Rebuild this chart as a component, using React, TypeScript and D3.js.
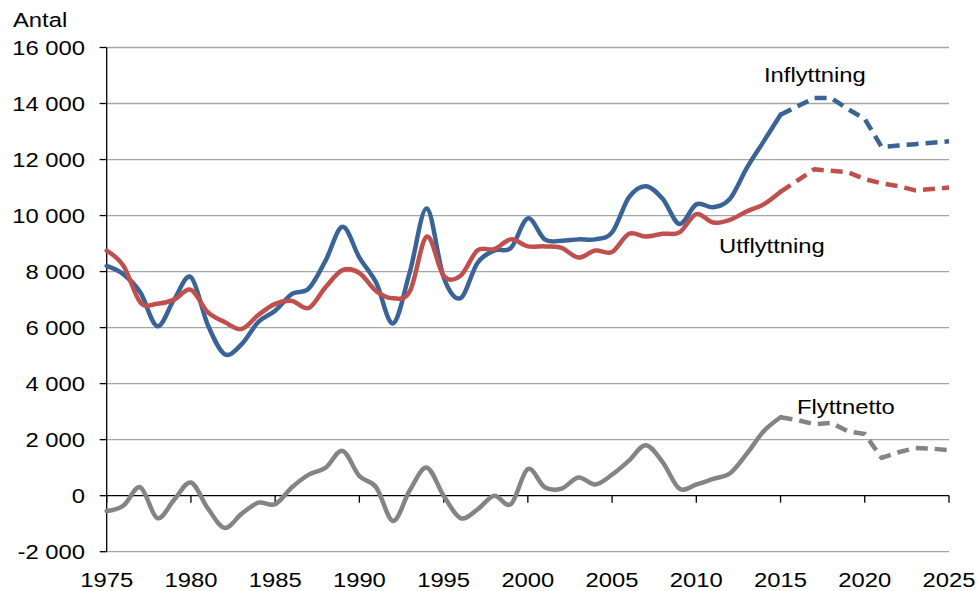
import React from "react";
import * as d3 from "d3";

const years: number[] = d3.range(1975, 2026);

const inflyttning: number[] = [
  8200, 7900, 7250, 6050, 7000, 7800, 6100, 5050, 5400, 6200,
  6600, 7200, 7400, 8400, 9600, 8500, 7600, 6150, 8000, 10250,
  7800, 7050, 8300, 8750, 8850, 9900, 9150, 9100, 9150, 9150,
  9400, 10650, 11050, 10600, 9700, 10400, 10300, 10600, 11700, 12650,
  13600, 13900, 14200, 14200, 13800, 13450, 12450, 12500, 12550, 12600,
  12650,
];

const utflyttning: number[] = [
  8750, 8200, 6900, 6850, 7000, 7350, 6550, 6200, 5950, 6450,
  6850, 6950, 6700, 7450, 8050, 7950, 7300, 7050, 7300, 9250,
  7850, 7850, 8750, 8800, 9150, 8900, 8900, 8850, 8500, 8750,
  8700, 9350, 9250, 9350, 9400, 10050, 9750, 9850, 10150, 10400,
  10850, 11250, 11650, 11600, 11550, 11300, 11150, 11050, 10900, 10950,
  11000,
];

const flyttnetto: number[] = [
  -550, -350, 300, -800, -150, 470, -450, -1150, -650, -250,
  -300, 300, 750, 1000, 1600, 700, 300, -900, 200, 1000,
  0, -800, -500, 0, -300, 950, 300, 250, 650, 400,
  750, 1250, 1800, 1200, 250, 400, 600, 800, 1500, 2300,
  2800, 2700, 2550, 2600, 2300, 2200, 1350, 1550, 1700, 1680,
  1620,
];

const yTicks: number[] = [-2000, 0, 2000, 4000, 6000, 8000, 10000, 12000, 14000, 16000];
const xTicks: number[] = [1975, 1980, 1985, 1990, 1995, 2000, 2005, 2010, 2015, 2020, 2025];
const forecastStart = 2015;

const W = 979;
const H = 591;
const FONT = "'Liberation Sans', Arial, sans-serif";
const FS = 20;
const SX = 1.19;

const fmt = (v: number) => {
  const s = Math.abs(v).toString().replace(/\B(?=(\d{3})+(?!\d))/g, " ");
  return (v < 0 ? "-" : "") + s;
};

function Txt({ x, y, anchor = "start", children }: { x: number; y: number; anchor?: string; children: React.ReactNode }) {
  return (
    <text
      transform={`translate(${x},${y}) scale(${SX},1)`}
      textAnchor={anchor as any}
      fontFamily={FONT}
      fontSize={FS}
      fill="#000"
    >
      {children}
    </text>
  );
}

export default function App() {
  const x = d3.scaleLinear().domain([1975, 2025]).range([106.7, 949]);
  const y = d3.scaleLinear().domain([-2000, 16000]).range([551.7, 47.5]);

  const series = [
    { name: "Inflyttning", values: inflyttning, color: "#3A6497" },
    { name: "Utflyttning", values: utflyttning, color: "#C0504D" },
    { name: "Flyttnetto", values: flyttnetto, color: "#848484" },
  ];

  const solidGen = d3
    .line<[number, number]>()
    .x((d) => x(d[0]))
    .y((d) => y(d[1]))
    .curve(d3.curveCardinal.tension(0));
  const dashGen = d3
    .line<[number, number]>()
    .x((d) => x(d[0]))
    .y((d) => y(d[1]))
    .curve(d3.curveLinear);

  const x0 = x(1975);
  const x1 = x(2025);

  return (
    <svg width={W} height={H} style={{ position: "absolute", left: 0, top: 0, background: "#fff" }}>
      <rect x={0} y={0} width={W} height={H} fill="#fff" />
      {/* gridlines */}
      {yTicks.map((t) =>
        t === 0 ? null : (
          <line key={t} x1={x0} x2={x1} y1={y(t)} y2={y(t)} stroke="#a6a6a6" strokeWidth={1.3} />
        )
      )}
      {/* y axis */}
      <line x1={x0} x2={x0} y1={y(16000)} y2={y(-2000)} stroke="#000" strokeWidth={1.3} />
      {yTicks.map((t) => (
        <g key={"yt" + t}>
          <line x1={x0 - 7} x2={x0} y1={y(t)} y2={y(t)} stroke="#000" strokeWidth={1.3} />
          <Txt x={85} y={y(t) + 7.5} anchor="end">
            {fmt(t)}
          </Txt>
        </g>
      ))}
      {/* x axis at 0 */}
      <line x1={x0} x2={x1} y1={y(0)} y2={y(0)} stroke="#000" strokeWidth={1.3} />
      {xTicks.map((t) => (
        <g key={"xt" + t}>
          <line x1={x(t)} x2={x(t)} y1={y(0)} y2={y(0) + 7} stroke="#000" strokeWidth={1.3} />
          <Txt x={x(t)} y={587} anchor="middle">
            {t}
          </Txt>
        </g>
      ))}
      {/* series */}
      {series.map((s) => {
        const pts: [number, number][] = years.map((yr, i) => [yr, s.values[i]]);
        const solid = pts.filter((p) => p[0] <= forecastStart);
        const dashed = pts.filter((p) => p[0] >= forecastStart);
        return (
          <g key={s.name}>
            <path d={solidGen(solid) || ""} fill="none" stroke={s.color} strokeWidth={4.5} strokeLinejoin="round" strokeLinecap="round" />
            <path d={dashGen(dashed) || ""} fill="none" stroke={s.color} strokeWidth={4.5} strokeDasharray="12,7" strokeLinejoin="round" />
          </g>
        );
      })}
      {/* labels */}
      <Txt x={13} y={27}>Antal</Txt>
      <Txt x={764} y={82}>Inflyttning</Txt>
      <Txt x={719} y={253}>Utflyttning</Txt>
      <Txt x={797} y={414}>Flyttnetto</Txt>
    </svg>
  );
}
